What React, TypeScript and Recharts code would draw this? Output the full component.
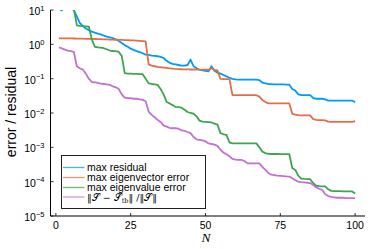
import React from 'react';
import { LineChart, Line, XAxis, YAxis, Legend } from 'recharts';

const Ns: number[] = Array.from({ length: 100 }, (_, i) => i + 1);

const maxResidual: number[] = [
  11, 9.7, 15, 18, 12, 9.8, 6.4, 4.2, 3.4, 2.9,
  2.6, 2.35, 2.2, 2.05, 1.95, 1.8, 1.68, 1.6, 1.52, 1.4,
  1.25, 1.1, 0.95, 0.85, 0.75, 0.69, 0.63, 0.59, 0.55, 0.5,
  0.49, 0.47, 0.46, 0.45, 0.43, 0.4, 0.33, 0.29, 0.27, 0.26,
  0.25, 0.24, 0.24, 0.25, 0.36, 0.23, 0.2, 0.182, 0.175, 0.17,
  0.163, 0.23, 0.17, 0.15, 0.14, 0.128, 0.117, 0.105, 0.098, 0.095,
  0.094, 0.094, 0.094, 0.094, 0.094, 0.094, 0.094, 0.09, 0.077, 0.073,
  0.07, 0.069, 0.068, 0.068, 0.068, 0.068, 0.067, 0.067, 0.05, 0.045,
  0.035, 0.033, 0.033, 0.033, 0.033, 0.027, 0.026, 0.026, 0.026, 0.025,
  0.023, 0.023, 0.023, 0.023, 0.023, 0.023, 0.023, 0.023, 0.023, 0.0205,
];

const maxEigvecError: number[] = [
  1.5, 1.5, 1.5, 1.49, 1.49, 1.48, 1.47, 1.47, 1.46, 1.45,
  1.45, 1.44, 1.43, 1.42, 1.41, 1.4, 1.39, 1.38, 1.37, 1.36,
  1.35, 1.34, 1.33, 1.32, 1.31, 1.3, 1.28, 1.26, 1.24, 1.22,
  0.26, 0.24, 0.23, 0.22, 0.215, 0.21, 0.205, 0.2, 0.195, 0.192,
  0.19, 0.188, 0.187, 0.186, 0.185, 0.185, 0.184, 0.184, 0.183, 0.183,
  0.182, 0.2, 0.18, 0.175, 0.098, 0.097, 0.097, 0.097, 0.033, 0.033,
  0.033, 0.033, 0.033, 0.033, 0.033, 0.033, 0.033, 0.03, 0.024, 0.021,
  0.019, 0.019, 0.019, 0.019, 0.019, 0.019, 0.019, 0.019, 0.0095, 0.009,
  0.0087, 0.0085, 0.0085, 0.0085, 0.0085, 0.0066, 0.0063, 0.0062, 0.0062, 0.0061,
  0.0056, 0.0055, 0.0055, 0.0055, 0.0055, 0.0055, 0.0055, 0.0055, 0.0055, 0.0058,
];

const maxEigvalError: number[] = [
  60, 50, 40, 30, 20, 11, 3.56, 3.45, 3.4, 3.35,
  3.3, 1.4, 0.85, 0.82, 0.8, 0.77, 0.72, 0.66, 0.64, 0.63,
  0.6, 0.46, 0.145, 0.14, 0.14, 0.138, 0.137, 0.136, 0.135, 0.1,
  0.073, 0.07, 0.068, 0.066, 0.05, 0.035, 0.021, 0.019, 0.017, 0.015,
  0.0148, 0.0143, 0.0125, 0.0107, 0.01, 0.0096, 0.008, 0.006, 0.0056, 0.0055,
  0.0054, 0.0053, 0.0049, 0.0046, 0.0026, 0.0024, 0.0023, 0.0014, 0.0013, 0.0013,
  0.0013, 0.0013, 0.0013, 0.0013, 0.0013, 0.0013, 0.0013, 0.001, 0.00075, 0.00068,
  0.00065, 0.00064, 0.00064, 0.00064, 0.00063, 0.00063, 0.00063, 0.00063, 0.00025, 0.00022,
  0.00015, 0.000122, 0.00012, 0.000119, 0.000118, 0.00009, 0.000076, 0.000074, 0.000073, 0.000073,
  0.00006, 0.000054, 0.000053, 0.000053, 0.000053, 0.000052, 0.000052, 0.000052, 0.000052, 0.000045,
];

const relDiff: number[] = [
  0.82, 0.76, 0.7, 0.66, 0.63, 0.6, 0.23, 0.2, 0.185, 0.14,
  0.1, 0.08, 0.078, 0.075, 0.072, 0.07, 0.068, 0.066, 0.06, 0.056,
  0.05, 0.035, 0.028, 0.027, 0.027, 0.026, 0.026, 0.025, 0.024, 0.022,
  0.011, 0.0088, 0.0075, 0.0063, 0.0055, 0.0043, 0.004, 0.0037, 0.0036, 0.0036,
  0.0035, 0.0031, 0.003, 0.0028, 0.0026, 0.002, 0.0017, 0.00165, 0.0016, 0.0015,
  0.0013, 0.00125, 0.0012, 0.0011, 0.00085, 0.0007, 0.00063, 0.00055, 0.00046, 0.00044,
  0.00043, 0.00043, 0.0004, 0.00034, 0.00034, 0.00034, 0.00034, 0.00034, 0.00027, 0.00022,
  0.00018, 0.00016, 0.000155, 0.00015, 0.000148, 0.000145, 0.000142, 0.00014, 0.000125, 0.00011,
  0.0001, 0.000097, 0.000095, 0.000093, 0.000091, 0.00008, 0.000068, 0.000062, 0.000058, 0.000043,
  0.000038, 0.000036, 0.000035, 0.000034, 0.000034, 0.000034, 0.000033, 0.000033, 0.000033, 0.000033,
];

const xTicks: number[] = [0, 25, 50, 75, 100];
const yTicks: number[] = [1e-5, 1e-4, 1e-3, 1e-2, 1e-1, 1, 10];

const seriesKeys = ['residual', 'eigvec', 'eigval', 'reldiff'];
const seriesNames = ['max residual', 'max eigenvector error', 'max eigenvalue error', 'rel'];
const seriesColors = ['#009AFA', '#E36F47', '#3EA44E', '#C371D2'];

const data = Ns.map((n, i) => ({
  N: n,
  residual: maxResidual[i],
  eigvec: maxEigvecError[i],
  eigval: maxEigvalError[i],
  reldiff: relDiff[i],
}));

const FONT = '"Liberation Sans", Arial, Helvetica, sans-serif';

const XTick = (props: any) => {
  const { x, y, payload } = props;
  return (
    <g>
      <line x1={x} x2={x} y1={y} y2={y - 3} stroke="#000" strokeWidth={0.8} />
      <text x={x} y={y + 12.5} textAnchor="middle" fontFamily={FONT} fontSize={10.5} fill="#000">
        {payload.value}
      </text>
    </g>
  );
};

const YTick = (props: any) => {
  const { x, y, payload } = props;
  const e = Math.round(Math.log10(payload.value));
  const expText = e < 0 ? '\u2212' + Math.abs(e) : String(e);
  return (
    <g>
      <line x1={x} x2={x + 3} y1={y} y2={y} stroke="#000" strokeWidth={0.8} />
      <text x={x - 6} y={y + 5} textAnchor="end" fontFamily={FONT} fontSize={10.5} fill="#000">
        <tspan>10</tspan>
        <tspan dy={-4.5} fontSize={7.5}>{expText}</tspan>
      </text>
    </g>
  );
};

const YLabel = () => (
  <text
    x={16}
    y={112}
    transform="rotate(-90 16 112)"
    textAnchor="middle"
    fontFamily={FONT}
    fontSize={14}
    fill="#000"
  >
    error / residual
  </text>
);

const XLabel = () => (
  <text x={206} y={241.5} textAnchor="middle" fontFamily='"Liberation Serif", "DejaVu Serif", serif' fontStyle="italic" fontSize={13.5} fill="#000">
    N
  </text>
);

const LegendBox = () => {
  const rows = [168, 178, 188, 197.5].map((v) => v - 155.5);
  return (
    <svg width={146} height={55} style={{ display: 'block' }}>
      <rect x={0.5} y={0.5} width={144} height={53} fill="#fff" stroke="#222" strokeWidth={1} />
      {seriesKeys.map((k, i) => (
        <g key={k}>
          <line x1={2} x2={23.5} y1={rows[i]} y2={rows[i]} stroke={seriesColors[i]} strokeWidth={1.3} strokeOpacity={0.75} />
          {i < 3 ? (
            <text x={26} y={rows[i] + 3.7} fontFamily={FONT} fontSize={10.5} fill="#000">
              {seriesNames[i]}
            </text>
          ) : (
            <text x={26} y={rows[i] + 3.7} fontFamily='"DejaVu Serif", serif' fontSize={9.5} fill="#000">
              <tspan>{'\u2016\uD835\uDCAE \u2212 \uD835\uDCAE'}</tspan>
              <tspan dy={2.5} fontSize={6.5}>tb</tspan>
              <tspan dy={-2.5}>{'\u2016 /\u2016\uD835\uDCAE\u2016'}</tspan>
            </text>
          )}
        </g>
      ))}
    </svg>
  );
};

export default function App() {
  return (
    <div style={{ position: 'fixed', left: 0, top: 0, width: 374, height: 249, background: '#fff' }}>
      <LineChart width={374} height={249} data={data} margin={{ top: 10, right: 9, bottom: 0, left: 0 }}>
        <XAxis
          type="number"
          dataKey="N"
          domain={[-1.8, 103.3]}
          allowDataOverflow
          ticks={xTicks}
          interval={0}
          height={33}
          tickSize={0}
          tickMargin={0}
          tickLine={false}
          axisLine={{ stroke: '#000', strokeWidth: 1 }}
          tick={<XTick />}
          label={<XLabel />}
        />
        <YAxis
          type="number"
          scale="log"
          domain={[1e-5, 10]}
          allowDataOverflow
          ticks={yTicks}
          interval={0}
          width={50.5}
          tickSize={0}
          tickMargin={0}
          tickLine={false}
          axisLine={{ stroke: '#000', strokeWidth: 1 }}
          tick={<YTick />}
          label={<YLabel />}
        />
        {seriesKeys.map((k, i) => (
          <Line
            key={k}
            type="linear"
            dataKey={k}
            name={seriesNames[i]}
            stroke={seriesColors[i]}
            strokeWidth={1.8}
            strokeLinejoin="round"
            dot={false}
            activeDot={false}
            isAnimationActive={false}
          />
        ))}
        <Legend
          layout="vertical"
          align="center"
          verticalAlign="middle"
          wrapperStyle={{ position: 'absolute', left: 61, top: 155, width: 146, height: 55 }}
          content={() => <LegendBox />}
        />
      </LineChart>
    </div>
  );
}
